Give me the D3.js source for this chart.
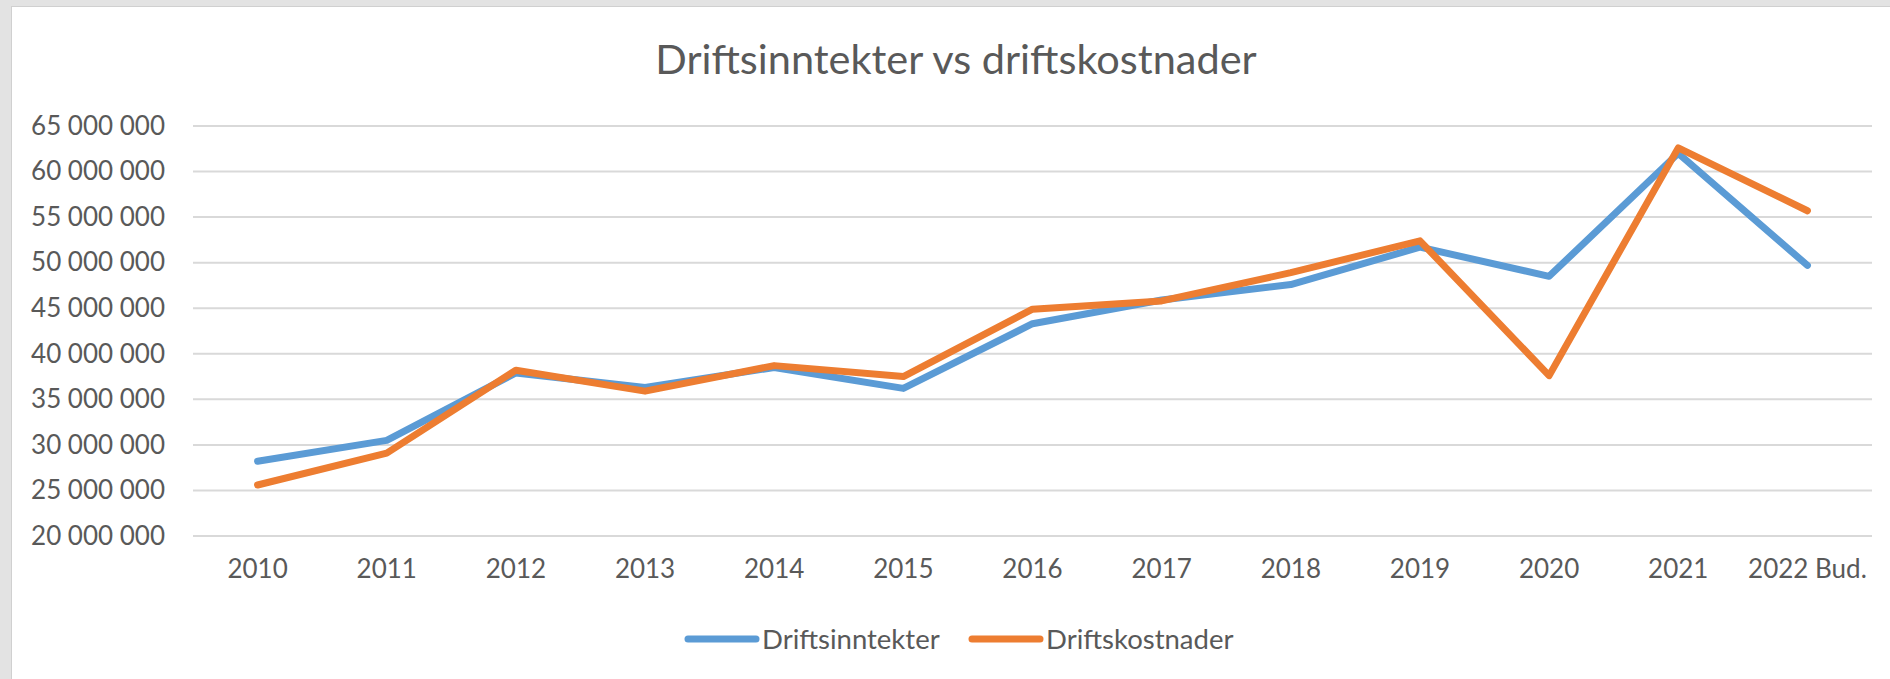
<!DOCTYPE html>
<html>
<head>
  <meta charset="UTF-8">
  <style>
    body {
        margin: 0;
        background: #fff;
        font-family: Lato, "Open Sans", sans-serif;
    }
    .grid line {
        stroke: #d9d9d9;
        stroke-width: 2px;
    }
    .tick-label {
        font-family: Lato, "Open Sans", sans-serif;
        font-size: 26px;
        fill: #595959;
    }
    .legend-label {
        font-family: Lato, "Open Sans", sans-serif;
        font-size: 27.5px;
        fill: #595959;
    }
    .title {
        font-family: Lato, "Open Sans", sans-serif;
        font-size: 41.5px;
        fill: #595959;
    }
    .series {
        fill: none;
        stroke-width: 7px;
        stroke-linejoin: round;
        stroke-linecap: round;
    }
  </style>
</head>
<body>
<svg></svg>

<script src="https://cdnjs.cloudflare.com/ajax/libs/d3/7.8.5/d3.min.js"></script>
<script>

// data
const years = ["2010", "2011", "2012", "2013", "2014", "2015", "2016", "2017", "2018", "2019", "2020", "2021", "2022 Bud."];
const driftsinntekter = [28.2, 30.5, 37.9, 36.3, 38.5, 36.2, 43.3, 45.9, 47.6, 51.7, 48.5, 62.0, 49.7].map(v => v * 1e6);
const driftskostnader = [25.6, 29.1, 38.2, 35.9, 38.7, 37.5, 44.9, 45.8, 48.9, 52.4, 37.6, 62.6, 55.7].map(v => v * 1e6);
const yTicks = [20, 25, 30, 35, 40, 45, 50, 55, 60, 65].map(v => v * 1e6);
const seriesNames = ["Driftsinntekter", "Driftskostnader"];
const colors = ["#5b9bd5", "#ed7d31"];

const W = 1890, H = 679;
const margin = {top: 126, right: 18, bottom: 143, left: 193};
const width = W - margin.left - margin.right,
      height = H - margin.top - margin.bottom;

const svg = d3.select("svg")
  .attr("width", W)
  .attr("height", H);

// gray window frame on the top and left (screenshot edge)
svg.append("rect").attr("x", 0).attr("y", 0).attr("width", W).attr("height", 6).attr("fill", "#e3e3e3");
svg.append("rect").attr("x", 0).attr("y", 0).attr("width", 11).attr("height", H).attr("fill", "#e3e3e3");
svg.append("rect").attr("x", 11).attr("y", 6).attr("width", W - 11).attr("height", 1).attr("fill", "#d0d0d0");
svg.append("rect").attr("x", 11).attr("y", 6).attr("width", 1).attr("height", H).attr("fill", "#d0d0d0");

const g = svg.append("g")
  .attr("transform", "translate(" + margin.left + "," + margin.top + ")");

const x = d3.scaleBand()
  .domain(years)
  .range([0, width]);

const y = d3.scaleLinear()
  .domain([20e6, 65e6])
  .range([height, 0]);

const fmt = v => d3.format(",")(v).replace(/,/g, " ");

// gridlines
g.append("g")
  .attr("class", "grid")
  .selectAll("line")
  .data(yTicks)
  .join("line")
    .attr("x1", 0)
    .attr("x2", width)
    .attr("y1", d => y(d))
    .attr("y2", d => y(d));

// y axis labels
const yAxis = g.append("g")
  .call(d3.axisLeft(y).tickValues(yTicks).tickSize(0).tickPadding(28).tickFormat(fmt));
yAxis.select(".domain").remove();
yAxis.selectAll("text")
  .attr("class", "tick-label")
  .attr("font-family", null)
  .attr("font-size", null);

// x axis labels
const xAxis = g.append("g")
  .attr("transform", "translate(0," + height + ")")
  .call(d3.axisBottom(x).tickSize(0).tickPadding(24));
xAxis.select(".domain").remove();
xAxis.selectAll("text")
  .attr("class", "tick-label")
  .attr("font-family", null)
  .attr("font-size", null);

// lines
const line = d3.line()
  .x((d, i) => x(years[i]) + x.bandwidth() / 2)
  .y(d => y(d));

[driftsinntekter, driftskostnader].forEach((s, i) => {
  g.append("path")
    .datum(s)
    .attr("class", "series")
    .attr("stroke", colors[i])
    .attr("d", line);
});

// title
svg.append("text")
  .attr("class", "title")
  .attr("x", 956)
  .attr("y", 74)
  .attr("text-anchor", "middle")
  .text("Driftsinntekter vs driftskostnader");

// legend
const legendX = [688, 972];
const legend = svg.append("g")
  .selectAll("g")
  .data(seriesNames)
  .join("g")
    .attr("transform", (d, i) => "translate(" + legendX[i] + ",639)");
legend.append("line")
  .attr("x1", 0).attr("x2", 68)
  .attr("stroke", (d, i) => colors[i])
  .attr("stroke-width", 7)
  .attr("stroke-linecap", "round");
legend.append("text")
  .attr("class", "legend-label")
  .attr("x", 74)
  .attr("dy", "0.35em")
  .text(d => d);

</script>
</body>
</html>
